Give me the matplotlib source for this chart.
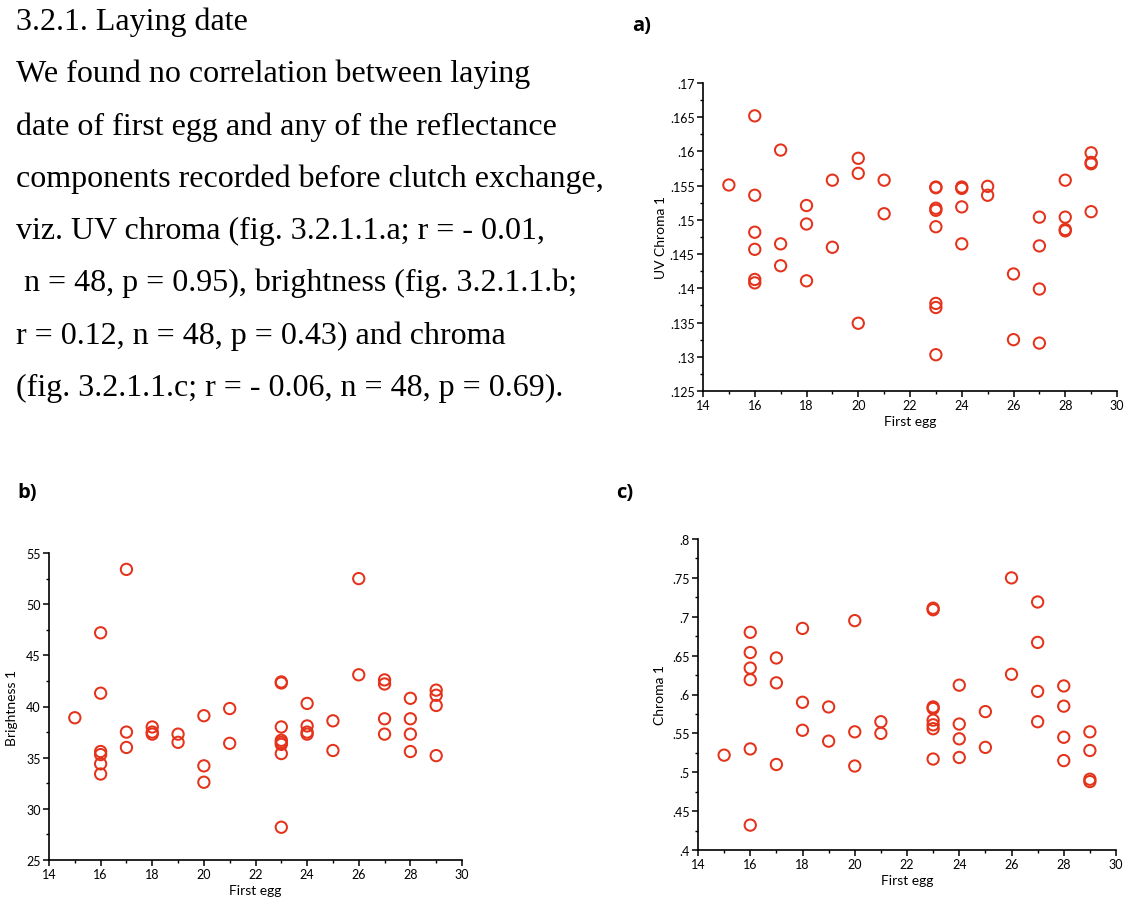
import matplotlib
matplotlib.use("Agg")
import matplotlib.pyplot as plt
from matplotlib.ticker import MultipleLocator, FuncFormatter

# ---------------- data ----------------
first_egg = [15,
             16, 16, 16, 16, 16, 16,
             17, 17, 17,
             18, 18, 18,
             19, 19,
             20, 20, 20,
             21, 21,
             23, 23, 23, 23, 23, 23, 23, 23,
             24, 24, 24, 24,
             25, 25,
             26, 26,
             27, 27, 27, 27,
             28, 28, 28, 28,
             29, 29, 29, 29]

uv_chroma = [.1551,
             .1652, .1536, .1482, .1457, .1413, .1408,
             .1602, .1465, .1433,
             .1521, .1494, .1411,
             .1558, .1460,
             .1590, .1568, .1349,
             .1558, .1509,
             .1548, .1547, .1517, .1514, .1490, .1378, .1372, .1303,
             .1548, .1546, .1519, .1465,
             .1549, .1536,
             .1421, .1325,
             .1504, .1462, .1399, .1320,
             .1558, .1504, .1486, .1484,
             .1598, .1584, .1582, .1512]

brightness = [38.9,
              47.2, 41.3, 35.6, 35.3, 34.4, 33.4,
              53.4, 37.5, 36.0,
              38.0, 37.5, 37.3,
              37.3, 36.5,
              39.1, 34.2, 32.6,
              39.8, 36.4,
              42.4, 42.3, 38.0, 36.7, 36.5, 36.3, 35.4, 28.2,
              40.3, 38.1, 37.5, 37.3,
              38.6, 35.7,
              52.5, 43.1,
              42.6, 42.2, 38.8, 37.3,
              40.8, 38.8, 37.3, 35.6,
              41.6, 41.1, 40.1, 35.2]

chroma = [.522,
          .680, .654, .634, .619, .530, .432,
          .647, .615, .510,
          .685, .590, .554,
          .584, .540,
          .695, .552, .508,
          .565, .550,
          .711, .709, .584, .582, .567, .561, .556, .517,
          .612, .562, .543, .519,
          .578, .532,
          .750, .626,
          .719, .667, .604, .565,
          .611, .585, .545, .515,
          .552, .528, .491, .488]

paragraph = [
    "3.2.1. Laying date",
    "We found no correlation between laying",
    "date of first egg and any of the reflectance",
    "components recorded before clutch exchange,",
    "viz. UV chroma (fig. 3.2.1.1.a; r = - 0.01,",
    " n = 48, p = 0.95), brightness (fig. 3.2.1.1.b;",
    "r = 0.12, n = 48, p = 0.43) and chroma",
    "(fig. 3.2.1.1.c; r = - 0.06, n = 48, p = 0.69).",
]

RED = "#e4321b"
SANS = ["Lato", "DejaVu Sans"]

W, H = 1125, 903
fig = plt.figure(figsize=(W / 100, H / 100), dpi=100)


def frac_box(left, top, right, bottom):
    return [left / W, 1 - bottom / H, (right - left) / W, (bottom - top) / H]


def strip_zero(v, pos):
    s = "%g" % round(v, 4)
    if s.startswith("0."):
        s = s[1:]
    return s


def style(ax, xs, ys, ylabel, ylim, ymajor, yminor, ylabx):
    ax.scatter(xs, ys, s=66, facecolors="none", edgecolors=RED,
               linewidths=1.45, zorder=3, clip_on=False)
    ax.set_xlim(14, 30)
    ax.set_ylim(*ylim)
    for sp in ("top", "right"):
        ax.spines[sp].set_visible(False)
    for sp in ("left", "bottom"):
        ax.spines[sp].set_linewidth(1.2)
    ax.xaxis.set_major_locator(MultipleLocator(2))
    ax.xaxis.set_minor_locator(MultipleLocator(1))
    ax.yaxis.set_major_locator(MultipleLocator(ymajor))
    ax.yaxis.set_minor_locator(MultipleLocator(yminor))
    ax.yaxis.set_major_formatter(FuncFormatter(strip_zero))
    ax.tick_params(which="major", length=4, width=1.1, labelsize=9, pad=2)
    ax.tick_params(which="minor", length=2.5, width=1.0)
    for lab in ax.get_xticklabels() + ax.get_yticklabels():
        lab.set_family(SANS)
    ax.set_xlabel("First egg", fontsize=10, family=SANS, labelpad=3)
    ax.set_ylabel(ylabel, fontsize=10, family=SANS)
    ax.yaxis.label.set_va("center")
    ax.yaxis.set_label_coords(ylabx, 0.5)


ax_a = fig.add_axes(frac_box(703, 84, 1117, 392))
style(ax_a, first_egg, uv_chroma, "UV Chroma 1", (0.125, 0.17), 0.005, 0.0025, -0.102)

ax_b = fig.add_axes(frac_box(49, 554, 462, 861))
style(ax_b, first_egg, brightness, "Brightness 1", (25, 55), 5, 2.5, -0.09)

ax_c = fig.add_axes(frac_box(698, 540, 1116, 851))
style(ax_c, first_egg, chroma, "Chroma 1", (0.4, 0.8), 0.05, 0.025, -0.092)

# paragraph text
for i, line in enumerate(paragraph):
    y = 30 + i * 52.3
    fig.text(16 / W, 1 - y / H, line, family=["Liberation Serif", "DejaVu Serif"],
             fontsize=23, ha="left", va="baseline", color="black")

# panel labels
for lab, x, y in (("a)", 632, 31), ("b)", 17, 498), ("c)", 616, 498)):
    fig.text(x / W, 1 - y / H, lab, family=["Open Sans", "DejaVu Sans"],
             fontweight="bold", fontsize=14.5, ha="left", va="baseline")

fig.savefig("out.png", dpi=100, facecolor="white")
